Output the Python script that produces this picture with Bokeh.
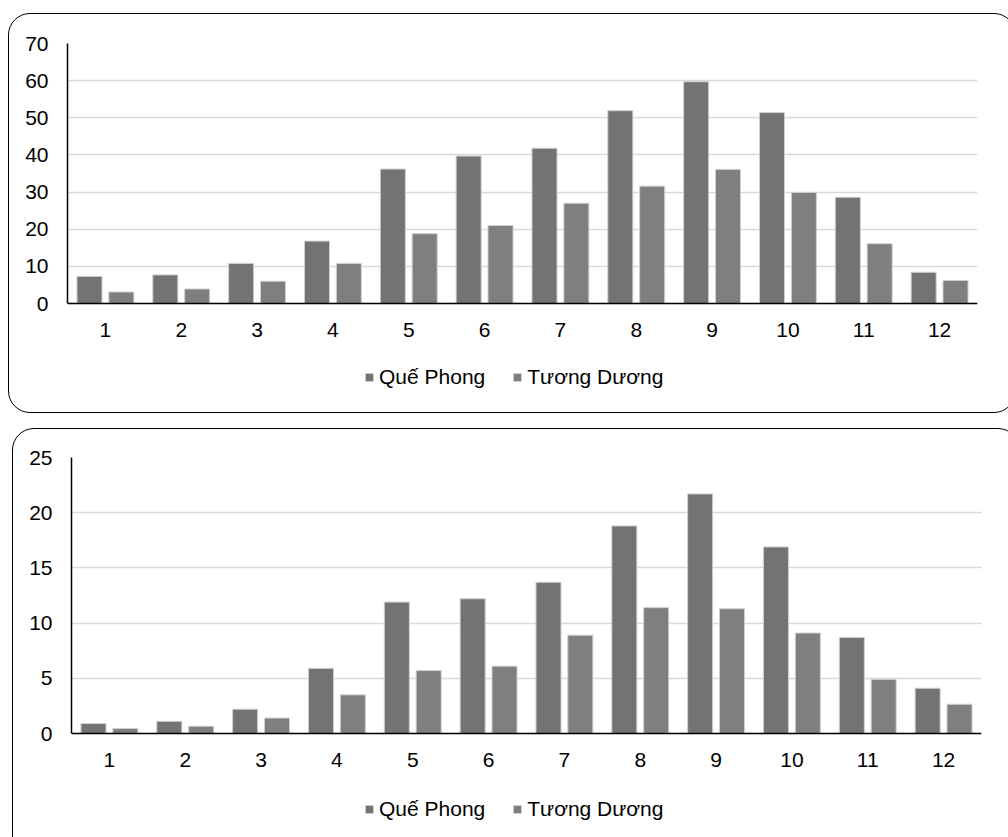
from bokeh.plotting import figure
from bokeh.layouts import column
from bokeh.models import ColumnDataSource, FactorRange, Range1d, Legend, LegendItem, FixedTicker
from bokeh.transform import dodge
from bokeh.embed import file_html
from bokeh.resources import INLINE

months = ["1", "2", "3", "4", "5", "6", "7", "8", "9", "10", "11", "12"]
series_names = ["Quế Phong", "Tương Dương"]

top_que_phong = [7.3, 7.7, 10.8, 16.8, 36.2, 39.7, 41.8, 51.9, 59.7, 51.4, 28.6, 8.4]
top_tuong_duong = [3.1, 3.9, 6.0, 10.8, 18.8, 21.0, 27.0, 31.6, 36.1, 29.9, 16.1, 6.2]
top_ticks = [0, 10, 20, 30, 40, 50, 60, 70]

bot_que_phong = [0.9, 1.1, 2.2, 5.9, 11.9, 12.2, 13.7, 18.8, 21.7, 16.9, 8.7, 4.1]
bot_tuong_duong = [0.45, 0.66, 1.4, 3.5, 5.7, 6.1, 8.9, 11.4, 11.3, 9.1, 4.9, 2.65]
bot_ticks = [0, 5, 10, 15, 20, 25]

C1 = "#737373"
C2 = "#7f7f7f"
FONT = "Liberation Sans"
FS = "21px"


def make_chart(qp, td, ticks, W, H, ml, mt, mr, mb, axis_px, margin, leg_xy):
    # axis_px: pixel height of the value axis (0..max) inside the frame;
    # the frame extends below 0 to hold tick labels and legend.
    frame_h = H - mt - mb
    y_max = ticks[-1]
    y_min = -y_max * (frame_h - axis_px) / axis_px
    src = ColumnDataSource(dict(month=months, qp=qp, td=td))
    p = figure(x_range=FactorRange(*months, range_padding=0),
               y_range=Range1d(y_min, y_max),
               width=W, height=H,
               min_border_left=ml, min_border_top=mt,
               min_border_right=mr, min_border_bottom=mb,
               output_backend="svg", toolbar_location=None, tools="")
    p.outline_line_color = None
    p.background_fill_alpha = 0
    p.border_fill_alpha = 0

    r1 = p.vbar(x=dodge("month", -0.21, range=p.x_range), top="qp", width=0.33,
                source=src, fill_color=C1, line_color="#cfcfcf", line_width=1)
    r2 = p.vbar(x=dodge("month", 0.21, range=p.x_range), top="td", width=0.33,
                source=src, fill_color=C2, line_color="#cfcfcf", line_width=1)

    p.xgrid.grid_line_color = None
    p.ygrid.grid_line_color = "#d9d9d9"
    p.ygrid.grid_line_width = 1.5
    p.yaxis.ticker = FixedTicker(ticks=ticks)
    p.yaxis.bounds = (ticks[0], ticks[-1])
    p.xaxis.fixed_location = 0

    for ax in (p.xaxis[0], p.yaxis[0]):
        ax.axis_line_color = "black"
        ax.axis_line_width = 1.5
        ax.major_tick_line_color = None
        ax.minor_tick_line_color = None
        ax.major_label_text_font = FONT
        ax.major_label_text_font_size = FS
        ax.major_label_text_color = "#000000"
    p.yaxis.major_label_standoff = 13
    p.xaxis.major_label_standoff = 13

    legend = Legend(items=[LegendItem(label=series_names[0], renderers=[r1]),
                           LegendItem(label=series_names[1], renderers=[r2])],
                    orientation="horizontal", location=leg_xy,
                    label_text_font=FONT, label_text_font_size=FS,
                    label_text_color="#000000",
                    glyph_width=10, glyph_height=10, label_standoff=5, spacing=27,
                    border_line_color=None, background_fill_alpha=0,
                    margin=0, padding=0)
    p.add_layout(legend)

    p.margin = margin
    p.styles = {"border": "1.5px solid black", "border-radius": "22px"}
    return p


p1 = make_chart(top_que_phong, top_tuong_duong, top_ticks, 1030, 400,
                58, 29, 9, 12, 260, (13, -30, 0, 8), (297, 13))
p2 = make_chart(bot_que_phong, bot_tuong_duong, bot_ticks, 1030, 430,
                58, 28, 40, 27, 276, (15, -30, 0, 12), (293, 11))

layout = column(p1, p2, width=1008, height=837, spacing=0,
                styles={"overflow": "hidden"})
open("out.html", "w").write(file_html(layout, INLINE))
